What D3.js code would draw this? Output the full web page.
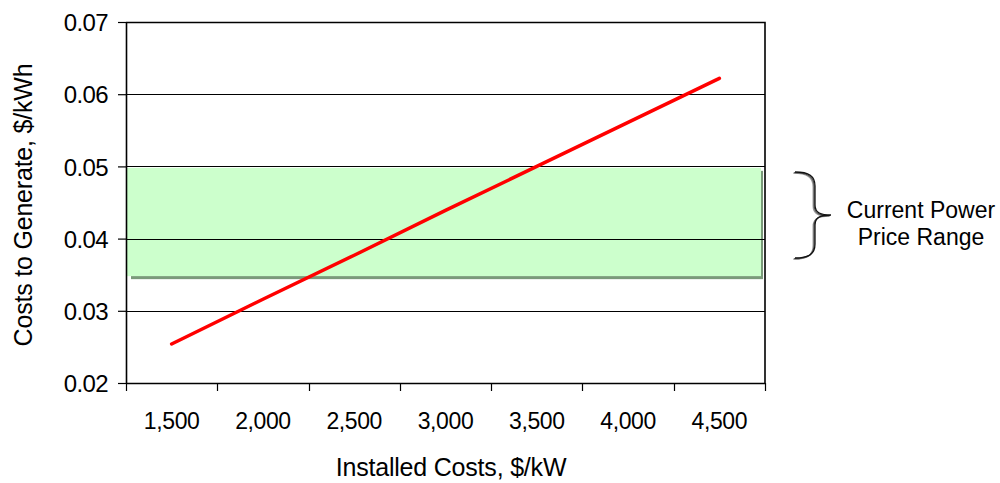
<!DOCTYPE html>
<html>
<head>
<meta charset="utf-8">
<script src="https://cdn.jsdelivr.net/npm/d3@7"></script>
<style>
  body { margin: 0; background: #fff; }
  text { font-family: "Liberation Sans", Arial, sans-serif; fill: #000; }
</style>
</head>
<body>
<div id="chart"></div>
<script>
// installed cost categories and generating cost ($/kWh)
var categories = ["1,500", "2,000", "2,500", "3,000", "3,500", "4,000", "4,500"];
var costValues = [0.0254, 0.0316, 0.0377, 0.0439, 0.0500, 0.0561, 0.0622];
var yTicks = [0.02, 0.03, 0.04, 0.05, 0.06, 0.07];
// current power price range
var priceRange = [0.0348, 0.0498];
var rangeLabel = ["Current Power", "Price Range"];

var svgWidth = 1000;
var svgHeight = 483;
var margin = { top: 22, right: 235, bottom: 100, left: 126 };
var width = svgWidth - margin.left - margin.right;   // 639
var height = svgHeight - margin.top - margin.bottom; // 361

var svg = d3.select("#chart")
    .append("svg")
    .attr("width", svgWidth)
    .attr("height", svgHeight);

var chartGroup = svg.append("g")
    .attr("transform", `translate(${margin.left}, ${margin.top})`);

var xScale = d3.scaleBand()
    .domain(categories)
    .range([0, width]);

var yScale = d3.scaleLinear()
    .domain([0.02, 0.07])
    .range([height, 0]);

// green price band with a darker shadow under it
var bandTop = yScale(priceRange[1]);
var bandBottom = yScale(priceRange[0]);
chartGroup.append("rect")
    .attr("x", 5)
    .attr("y", bandTop + 3)
    .attr("width", width - 7)
    .attr("height", bandBottom - bandTop)
    .attr("fill", "#7a9a7a");
chartGroup.append("rect")
    .attr("x", 1)
    .attr("y", bandTop)
    .attr("width", width - 5)
    .attr("height", bandBottom - bandTop)
    .attr("fill", "#ccffcc");

// gridlines
chartGroup.selectAll(".grid")
    .data(yTicks.slice(1))
    .enter()
    .append("line")
    .attr("x1", 0)
    .attr("x2", width)
    .attr("y1", d => Math.round(yScale(d)) + 0.5)
    .attr("y2", d => Math.round(yScale(d)) + 0.5)
    .attr("stroke", "#000")
    .attr("stroke-width", 1.2);

// plot border (top and right)
chartGroup.append("path")
    .attr("d", `M0,0.5H${width}V${height}`)
    .attr("fill", "none")
    .attr("stroke", "#000")
    .attr("stroke-width", 1.6);

// axes
var leftAxis = d3.axisLeft(yScale)
    .tickValues(yTicks)
    .tickFormat(d3.format(".2f"))
    .tickSize(8)
    .tickPadding(10);

var yAxisG = chartGroup.append("g").call(leftAxis);
yAxisG.select(".domain").attr("stroke-width", 1.6).attr("d", `M0.5,0V${height}`);
yAxisG.selectAll(".tick line").attr("stroke-width", 1.2);
yAxisG.selectAll("text")
    .style("font-size", "24px")
    .style("letter-spacing", "-0.6px")
    .attr("dy", "0.36em");

var bottomAxis = d3.axisBottom(xScale).tickSize(0).tickPadding(30);
var xAxisG = chartGroup.append("g")
    .attr("transform", `translate(0, ${height})`)
    .call(bottomAxis);
xAxisG.select(".domain").attr("stroke-width", 1.6).attr("d", `M0,0.5H${width}`);
xAxisG.selectAll("text")
    .style("font-size", "23px")
    .style("letter-spacing", "-0.4px")
    .attr("dy", "0.71em");

// tick marks between categories
var boundaries = categories.map(c => xScale(c)).concat([width]);
xAxisG.selectAll(".sep")
    .data(boundaries)
    .enter()
    .append("line")
    .attr("x1", d => Math.round(d) + 0.5)
    .attr("x2", d => Math.round(d) + 0.5)
    .attr("y1", 0)
    .attr("y2", 8)
    .attr("stroke", "#000")
    .attr("stroke-width", 1.2);

// cost line
var line = d3.line()
    .x((d, i) => xScale(categories[i]) + xScale.bandwidth() / 2)
    .y(d => yScale(d));

chartGroup.append("path")
    .datum(costValues)
    .attr("d", line)
    .attr("fill", "none")
    .attr("stroke", "#ff0000")
    .attr("stroke-width", 3.5)
    .attr("stroke-linecap", "round");

// axis titles
svg.append("text")
    .attr("x", 451)
    .attr("y", 476)
    .attr("text-anchor", "middle")
    .style("font-size", "25px")
    .style("letter-spacing", "-0.2px")
    .text("Installed Costs, $/kW");

svg.append("text")
    .attr("transform", "translate(32, 205) rotate(-90)")
    .attr("text-anchor", "middle")
    .style("font-size", "25px")
    .style("letter-spacing", "-0.2px")
    .text("Costs to Generate, $/kWh");

// brace next to the band
var braceTop = 172;
var braceBottom = 258;
var braceMid = (braceTop + braceBottom) / 2;
var bx = 815;
var braceD = `M${bx - 20},${braceTop}
  C${bx - 6},${braceTop} ${bx},${braceTop + 4} ${bx},${braceTop + 14}
  L${bx},${braceMid - 10}
  C${bx},${braceMid - 2} ${bx + 6},${braceMid} ${bx + 16},${braceMid}
  C${bx + 6},${braceMid} ${bx},${braceMid + 2} ${bx},${braceMid + 10}
  L${bx},${braceBottom - 14}
  C${bx},${braceBottom - 4} ${bx - 6},${braceBottom} ${bx - 20},${braceBottom}`;
[[2, "#999"], [1, "#555"], [0, "#111"]].forEach(function(s) {
    svg.append("path")
        .attr("d", braceD)
        .attr("transform", `translate(${-s[0] * 0.9}, ${s[0] * 0.6})`)
        .attr("fill", "none")
        .attr("stroke", s[1])
        .attr("stroke-width", 1.3);
});

svg.selectAll(".rangeLabel")
    .data(rangeLabel)
    .enter()
    .append("text")
    .attr("x", 921)
    .attr("y", (d, i) => 218 + i * 27)
    .attr("text-anchor", "middle")
    .style("font-size", "23px")
    .text(d => d);
</script>
</body>
</html>
